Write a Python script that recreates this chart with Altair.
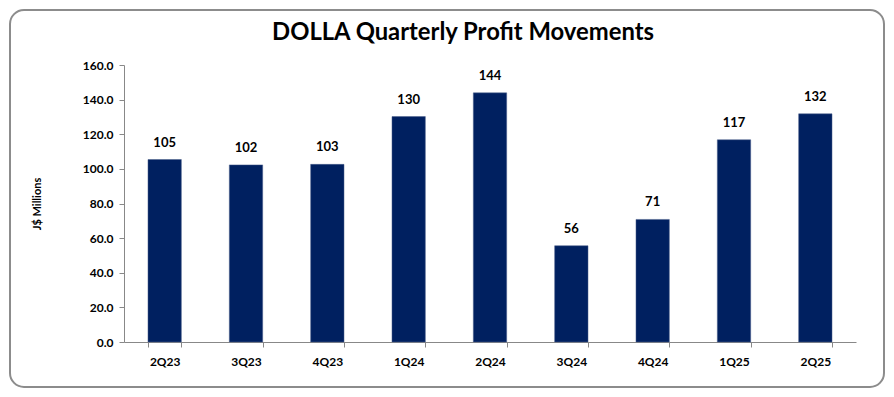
import altair as alt
import pandas as pd

quarters = ["2Q23", "3Q23", "4Q23", "1Q24", "2Q24", "3Q24", "4Q24", "1Q25", "2Q25"]
profit = [105.4, 102.3, 102.6, 130.2, 143.9, 55.6, 70.8, 116.8, 131.8]
title_text = "DOLLA Quarterly Profit Movements"

df = pd.DataFrame({"quarter": quarters, "profit": profit})

W, H = 732, 277
FONT = "Lato"

base = alt.Chart(df)

x = alt.X("quarter:N", sort=quarters, title=None,
          scale=alt.Scale(paddingInner=0.59, paddingOuter=0.295),
          axis=alt.Axis(labelAngle=0, tickBand="extent", tickSize=5, labelPadding=9,
                        labelFont=FONT, labelFontWeight="bold", labelFontSize=12,
                        labelColor="black", domainColor="#888888", tickColor="#888888"))
y = alt.Y("profit:Q", title="J$ Millions",
          scale=alt.Scale(domain=[0, 160], nice=False),
          axis=alt.Axis(values=[0, 20, 40, 60, 80, 100, 120, 140, 160], format=".1f",
                        grid=False, tickSize=5, labelPadding=6,
                        labelFont=FONT, labelFontWeight="bold", labelFontSize=12,
                        labelColor="black", domainColor="#888888", tickColor="#888888",
                        titleFont=FONT, titleFontWeight="bold", titleFontSize=11,
                        titleColor="black", titlePadding=40))

first = base.transform_filter(alt.datum.quarter == "2Q23")

border = first.mark_rect(
    filled=False, stroke="#8c8c8c", strokeWidth=2, cornerRadius=14
).encode(
    x=alt.value(-114), x2=alt.value(W + 28), y=alt.value(-55), y2=alt.value(H + 45)
)

title = first.mark_text(
    font=FONT, fontSize=23.8, fontWeight="bold", color="black", baseline="alphabetic",
    align="center", text=title_text
).encode(x=alt.value(W / 2 - 27), y=alt.value(-25))

bars = base.mark_bar(color="#002060", stroke="#4a5f8a", strokeWidth=0.5).encode(x=x, y=y)

labels = base.mark_text(
    baseline="bottom", dy=-10, font=FONT, fontWeight="bold", fontSize=13, color="black"
).encode(x=x, y=y, text=alt.Text("profit:Q", format=".0f"))

chart = alt.layer(border, title, bars, labels).properties(
    width=W, height=H,
    autosize=alt.AutoSizeParams(type="none"),
    padding={"left": 116, "top": 57, "right": 30, "bottom": 47},
).configure_view(stroke=None)

chart.save("out.html", embed_options={"renderer": "svg", "actions": False})
